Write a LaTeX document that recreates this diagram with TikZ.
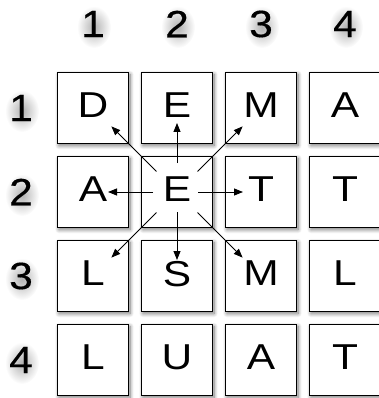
\documentclass[tikz,border=0pt]{standalone}
\usepackage{fontspec}
\setmainfont{Liberation Sans}
\newfontfamily\numfont[FakeBold=0.4]{Liberation Sans}
\usetikzlibrary{shadows.blur,arrows.meta,fadings}
\tikzfading[name=softglow, inner color=transparent!0, outer color=transparent!100]
\newcommand\wt[1]{\scalebox{1.18}[1]{#1}}
\newcommand\wn[1]{\scalebox{1.12}[1]{#1}}
\begin{document}
\begin{tikzpicture}[x=1pt,y=-1pt,
  cell/.style={draw=black,line width=0.9pt,fill=white,minimum size=71pt,inner sep=0pt,
    font=\fontsize{36}{36}\selectfont,text depth=5pt,
    blur shadow={shadow xshift=1.5pt,shadow yshift=-2pt,shadow blur radius=4pt,shadow opacity=55,shadow blur steps=8}},
  lbl/.style={font=\numfont\fontsize{38}{38}\selectfont,inner sep=0pt},
  glow/.style={fill=black,opacity=0.3,path fading=softglow},
  arr/.style={line width=0.8pt,-{Triangle[length=9pt,width=7pt]}}]
\useasboundingbox (0,0) rectangle (379,398);
% soft shadows behind the labels
\foreach \x/\y in {94/27,178/27,262/27,346/27,22/111,22/195,22/279,22/363}{
  \fill[glow] (\x,\y) ellipse (17pt and 21pt);
}
% column labels
\foreach \i/\x in {1/93,2/177,3/261,4/345}{
  \node[lbl] (col\i) at (\x,24) {\wn{\i}};
}
% row labels
\foreach \i/\y in {1/108,2/192,3/276,4/360}{
  \node[lbl] (row\i) at (21,\y) {\wn{\i}};
}
% cells
\node[cell] (c11) at (93,108) {\wt{D}};
\node[cell] (c12) at (177,108) {\wt{E}};
\node[cell] (c13) at (261,108) {\wt{M}};
\node[cell] (c14) at (345,108) {\wt{A}};
\node[cell] (c21) at (93,192) {\wt{A}};
\node[cell] (c22) at (177,192) {\wt{E}};
\node[cell] (c23) at (261,192) {\wt{T}};
\node[cell] (c24) at (345,192) {\wt{T}};
\node[cell] (c31) at (93,276) {\wt{L}};
\node[cell] (c32) at (177,276) {\wt{S}};
\node[cell] (c33) at (261,276) {\wt{M}};
\node[cell] (c34) at (345,276) {\wt{L}};
\node[cell] (c41) at (93,360) {\wt{L}};
\node[cell] (c42) at (177,360) {\wt{U}};
\node[cell] (c43) at (261,360) {\wt{A}};
\node[cell] (c44) at (345,360) {\wt{T}};
% arrows
\foreach \t in {c11,c13,c31,c33}{
  \draw[arr,shorten <=29pt,shorten >=26pt] (c22.center) -- (\t.center);
}
\draw[arr,shorten <=29pt,shorten >=15pt] (c22.center) -- (c12.center);
\draw[arr,shorten <=24pt,shorten >=15pt] (c22.center) -- (c21.center);
\draw[arr,shorten <=21pt,shorten >=18pt] (c22.center) -- (c23.center);
\draw[arr,shorten <=20pt,shorten >=16pt] (c22.center) -- (c32.center);
\end{tikzpicture}
\end{document}
